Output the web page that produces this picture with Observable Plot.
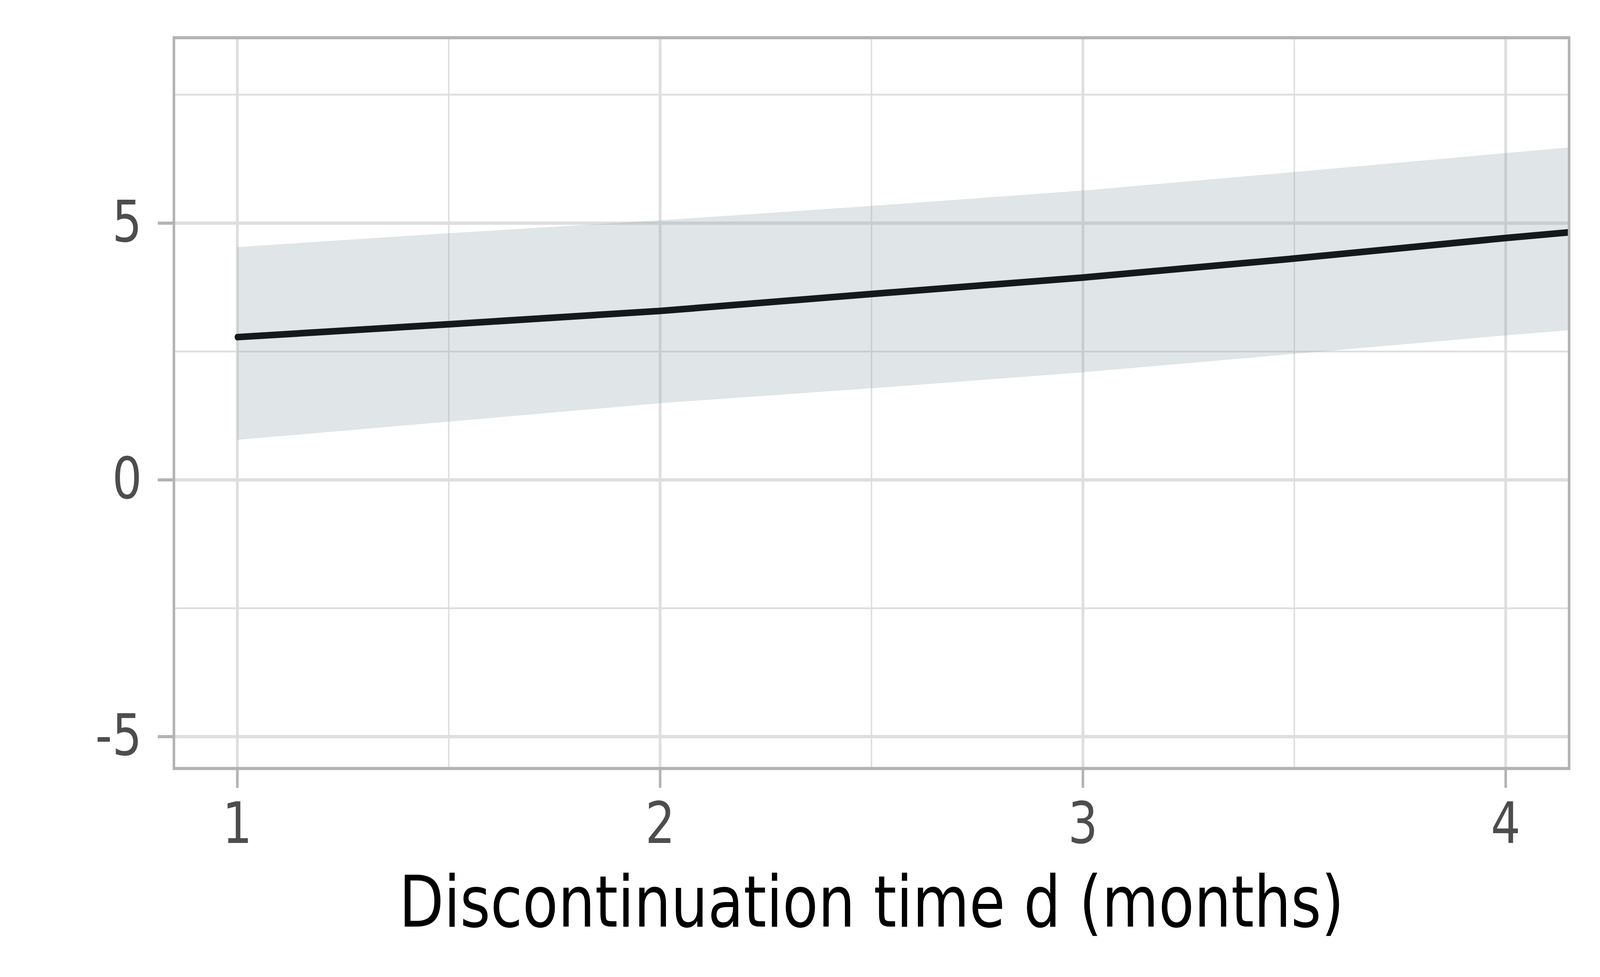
<!DOCTYPE html>
<html>
<head>
<meta charset="utf-8">
<script src="https://cdn.jsdelivr.net/npm/d3@7"></script>
<script src="https://cdn.jsdelivr.net/npm/@observablehq/plot@0.6"></script>
<style>
  html, body { margin: 0; padding: 0; background: #ffffff; overflow: hidden; }
  #chart { width: 100vw; height: 100vh; }
  #chart svg { display: block; width: 100vw !important; max-width: none !important; height: 100vh !important; }
</style>
</head>
<body>
<div id="chart"></div>
<script>
// ---- data ----
const months   = [1, 1.5, 2, 2.5, 3, 3.5, 4, 4.15];
const estimate = [2.78, 3.03, 3.29, 3.62, 3.94, 4.31, 4.71, 4.82];
const lower    = [0.775, 1.13, 1.49, 1.78, 2.09, 2.45, 2.81, 2.91];
const upper    = [4.53, 4.80, 5.05, 5.33, 5.63, 5.99, 6.36, 6.47];

const xTicks = [1, 2, 3, 4];
const xMinor = [1.5, 2.5, 3.5];
const yTicks = [-5, 0, 5];
const yMinor = [-2.5, 2.5, 7.5];
const xTitle = "Discontinuation time d (months)";

const rows = months.map((m, i) => ({m, est: estimate[i], lo: lower[i], hi: upper[i]}));

const font = "DejaVu Sans, sans-serif";

const chart = Plot.plot({
  width: 5000,
  height: 2500,
  marginLeft: 543,
  marginRight: 97,
  marginTop: 96,
  marginBottom: 534,
  style: {fontFamily: font, background: "#ffffff"},
  x: {domain: [0.85, 4.15], axis: null},
  y: {domain: [-5.62, 8.61], axis: null},
  marks: [
    // minor grid
    Plot.ruleX(xMinor, {stroke: "#dedede", strokeWidth: 4.5}),
    Plot.ruleY(yMinor, {stroke: "#dedede", strokeWidth: 4.5}),
    // major grid
    Plot.ruleX(xTicks, {stroke: "#dedede", strokeWidth: 8.5}),
    Plot.ruleY(yTicks, {stroke: "#dedede", strokeWidth: 8.5}),
    // confidence ribbon
    Plot.areaY(rows, {x: "m", y1: "lo", y2: "hi", fill: "#8ca0a8", fillOpacity: 0.27, clip: true}),
    // estimate line
    Plot.line(rows, {x: "m", y: "est", stroke: "#15191c", strokeWidth: 17, clip: true}),
    // panel border
    Plot.frame({stroke: "#b3b3b3", strokeWidth: 8}),
    // axes
    Plot.axisX(xTicks, {
      tickSize: 50, tickPadding: 37, tickFormat: d => String(d),
      stroke: "#b3b3b3", strokeWidth: 8, fill: "#4d4d4d", fontSize: 146, label: null
    }),
    Plot.axisY(yTicks, {
      tickSize: 50, tickPadding: 50, tickFormat: d => String(d),
      stroke: "#b3b3b3", strokeWidth: 8, fill: "#4d4d4d", fontSize: 146, label: null
    }),
    // x-axis title
    Plot.text([xTitle], {
      frameAnchor: "bottom", lineAnchor: "bottom", dy: 404,
      fontSize: 182, fill: "#000000", text: d => d
    })
  ]
});

// the browser viewport may be narrower than 5000px: stretch the 5000x2500 drawing to fill it
chart.setAttribute("viewBox", "0 0 5000 2500");
chart.setAttribute("preserveAspectRatio", "none");
document.getElementById("chart").appendChild(chart);
</script>
</body>
</html>
